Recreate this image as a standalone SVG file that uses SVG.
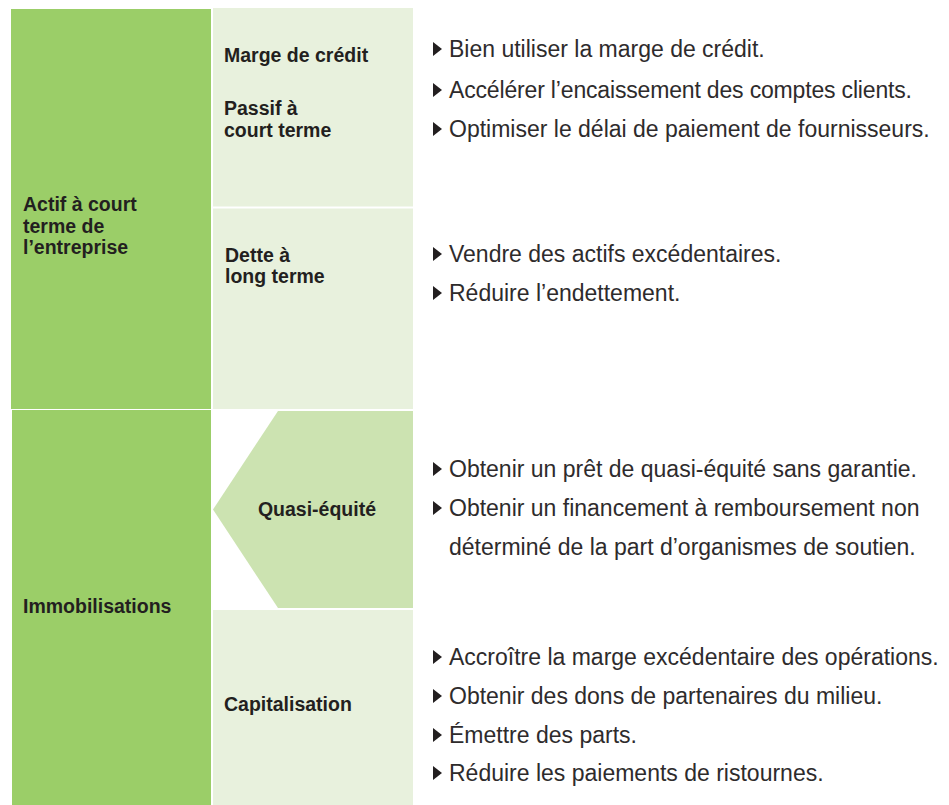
<svg xmlns="http://www.w3.org/2000/svg" width="949" height="805" viewBox="0 0 949 805">
<defs>
<style>
.dark{fill:#9bce68}
.light{fill:#e8f1dd}
.mid{fill:#cce3b1}
.lbl{font-family:"Liberation Sans",Arial,sans-serif;font-weight:bold;font-size:19.5px;fill:#231f20}
.txt{font-family:"Liberation Sans",Arial,sans-serif;font-size:23px;fill:#2e2b2c}
.bul{fill:#231f20}
</style>
<polygon id="tri" class="bul" points="0,-15 9,-8 0,-1"/>
</defs>
<rect width="949" height="805" fill="#ffffff"/>

<g id="actif-court-terme">
<rect class="dark" x="11" y="9" width="200" height="400"/>
<text class="lbl" x="23" y="211">Actif à court</text>
<text class="lbl" x="23" y="233">terme de</text>
<text class="lbl" x="23" y="254">l’entreprise</text>
</g>

<g id="immobilisations">
<rect class="dark" x="12" y="410" width="199" height="395"/>
<text class="lbl" x="23" y="613">Immobilisations</text>
</g>

<g id="marge-passif">
<rect class="light" x="213" y="8" width="200" height="198.5"/>
<text class="lbl" x="224" y="62">Marge de crédit</text>
<text class="lbl" x="224" y="115">Passif à</text>
<text class="lbl" x="224" y="137">court terme</text>
</g>

<g id="dette-long-terme">
<rect class="light" x="213" y="208.5" width="200" height="200.5"/>
<text class="lbl" x="225" y="262">Dette à</text>
<text class="lbl" x="225" y="283">long terme</text>
</g>

<g id="quasi-equite">
<polygon class="mid" points="278,411 413,411 413,608 278,608 213,509.5"/>
<text class="lbl" x="317" y="516" text-anchor="middle">Quasi-équité</text>
</g>

<g id="capitalisation">
<rect class="light" x="213" y="610" width="200" height="195"/>
<text class="lbl" x="224" y="711">Capitalisation</text>
</g>

<g id="actions-court-terme">
<use href="#tri" x="433" y="57"/>
<text class="txt" x="449" y="57">Bien utiliser la marge de crédit.</text>
<use href="#tri" x="433" y="98"/>
<text class="txt" x="449" y="98" textLength="463" lengthAdjust="spacing">Accélérer l’encaissement des comptes clients.</text>
<use href="#tri" x="433" y="137"/>
<text class="txt" x="449" y="137">Optimiser le délai de paiement de fournisseurs.</text>
</g>

<g id="actions-long-terme">
<use href="#tri" x="433" y="262"/>
<text class="txt" x="449" y="262">Vendre des actifs excédentaires.</text>
<use href="#tri" x="433" y="301"/>
<text class="txt" x="449" y="301">Réduire l’endettement.</text>
</g>

<g id="actions-quasi-equite">
<use href="#tri" x="433" y="477"/>
<text class="txt" x="449" y="477">Obtenir un prêt de quasi-équité sans garantie.</text>
<use href="#tri" x="433" y="516"/>
<text class="txt" x="449" y="516">Obtenir un financement à remboursement non</text>
<text class="txt" x="449" y="555">déterminé de la part d’organismes de soutien.</text>
</g>

<g id="actions-capitalisation">
<use href="#tri" x="433" y="665"/>
<text class="txt" x="449" y="665">Accroître la marge excédentaire des opérations.</text>
<use href="#tri" x="433" y="704"/>
<text class="txt" x="449" y="704">Obtenir des dons de partenaires du milieu.</text>
<use href="#tri" x="433" y="743"/>
<text class="txt" x="449" y="743">Émettre des parts.</text>
<use href="#tri" x="433" y="781"/>
<text class="txt" x="449" y="781">Réduire les paiements de ristournes.</text>
</g>
</svg>
